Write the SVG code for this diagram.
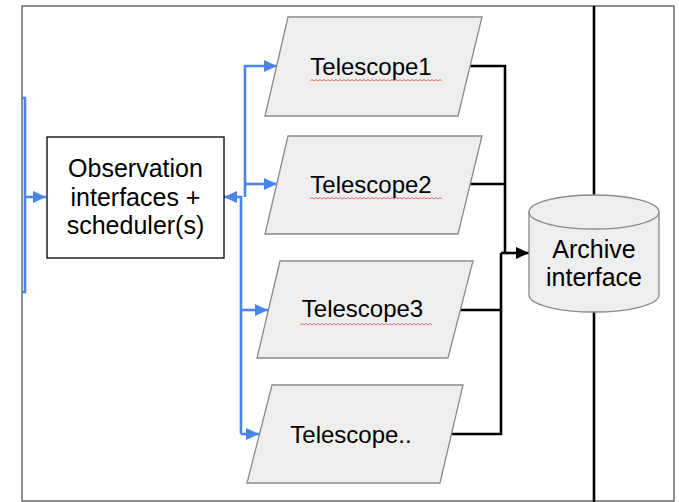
<svg xmlns="http://www.w3.org/2000/svg" width="679" height="502" viewBox="0 0 679 502">
  <defs>
    <marker id="arrBlue" markerUnits="userSpaceOnUse" markerWidth="14" markerHeight="12" refX="13" refY="6" orient="auto">
      <path d="M0,0 L13,6 L0,12 z" fill="#4a86e8"/>
    </marker>
    <marker id="arrBlack" markerUnits="userSpaceOnUse" markerWidth="14" markerHeight="12" refX="13" refY="6" orient="auto">
      <path d="M0,0 L13,6 L0,12 z" fill="#000"/>
    </marker>
  </defs>
  <style>
    .txt { font-family: "Liberation Sans", Arial, sans-serif; font-size: 24px; fill: #000; text-anchor: middle; }
    .big { font-size: 25px; }
    .tele { fill: #eeeeee; stroke: #8a8a8a; stroke-width: 1.3; }
    .blue { fill: none; stroke: #4a86e8; stroke-width: 2.6; }
    .blk { fill: none; stroke: #000; stroke-width: 2.6; }
    .spell { fill: none; stroke: #e06060; stroke-width: 0.9; }
  </style>
  <rect x="0" y="0" width="679" height="502" fill="#fff"/>
  <rect id="frame" x="22" y="6" width="652" height="495" fill="#fff" stroke="#6a6a6a" stroke-width="1.5"/>

  <g id="connectors">
    <path class="blue" d="M22,98 H25 V292 H22"/>
    <path class="blue" d="M25,197 H46" marker-end="url(#arrBlue)"/>
    <path class="blue" d="M245,197 V66 H277" marker-end="url(#arrBlue)"/>
    <path class="blue" d="M245,184 H277" marker-end="url(#arrBlue)"/>
    <path class="blue" d="M241,434 V197 H224" marker-end="url(#arrBlue)"/>
    <path class="blue" d="M241,310 H268" marker-end="url(#arrBlue)"/>
    <path class="blue" d="M241,434 H259" marker-end="url(#arrBlue)"/>
    <path class="blk" d="M469,66 H505 V253"/>
    <path class="blk" d="M469,184 H505"/>
    <path class="blk" d="M460,310 H501 V253"/>
    <path class="blk" d="M451,434 H501 V310"/>
    <path class="blk" d="M501,253 H529" marker-end="url(#arrBlack)"/>
    <path class="blk" d="M594,6 V195"/>
    <path class="blk" d="M594,312 V502"/>
  </g>

  <g id="scheduler">
    <rect x="47" y="137" width="177" height="121" fill="#fff" stroke="#000" stroke-width="1.3"/>
    <text class="txt big" x="135.5" y="177">Observation</text>
    <text class="txt big" x="135.5" y="206">interfaces +</text>
    <text class="txt big" x="135.5" y="234">scheduler(s)</text>
  </g>

  <g id="telescope1">
    <polygon class="tele" points="288,17 482,17 458,116 265,116"/>
    <text class="txt" x="371" y="75">Telescope1</text>
    <path class="spell" d="M310,81 l2,-1.5 l2,1.5 l2,-1.5 l2,1.5 l2,-1.5 l2,1.5 l2,-1.5 l2,1.5 l2,-1.5 l2,1.5 l2,-1.5 l2,1.5 l2,-1.5 l2,1.5 l2,-1.5 l2,1.5 l2,-1.5 l2,1.5 l2,-1.5 l2,1.5 l2,-1.5 l2,1.5 l2,-1.5 l2,1.5 l2,-1.5 l2,1.5 l2,-1.5 l2,1.5 l2,-1.5 l2,1.5 l2,-1.5 l2,1.5 l2,-1.5 l2,1.5 l2,-1.5 l2,1.5 l2,-1.5 l2,1.5 l2,-1.5 l2,1.5 l2,-1.5 l2,1.5 l2,-1.5 l2,1.5 l2,-1.5 l2,1.5 l2,-1.5 l2,1.5 l2,-1.5 l2,1.5 l2,-1.5 l2,1.5 l2,-1.5 l2,1.5 l2,-1.5 l2,1.5 l2,-1.5 l2,1.5 l2,-1.5 l2,1.5 l2,-1.5 l2,1.5 l2,-1.5 l2,1.5 l2,-1.5 l2,1.5"/>
  </g>

  <g id="telescope2">
    <polygon class="tele" points="288,136 482,136 458,234 265,234"/>
    <text class="txt" x="371" y="193">Telescope2</text>
    <path class="spell" d="M310,199 l2,-1.5 l2,1.5 l2,-1.5 l2,1.5 l2,-1.5 l2,1.5 l2,-1.5 l2,1.5 l2,-1.5 l2,1.5 l2,-1.5 l2,1.5 l2,-1.5 l2,1.5 l2,-1.5 l2,1.5 l2,-1.5 l2,1.5 l2,-1.5 l2,1.5 l2,-1.5 l2,1.5 l2,-1.5 l2,1.5 l2,-1.5 l2,1.5 l2,-1.5 l2,1.5 l2,-1.5 l2,1.5 l2,-1.5 l2,1.5 l2,-1.5 l2,1.5 l2,-1.5 l2,1.5 l2,-1.5 l2,1.5 l2,-1.5 l2,1.5 l2,-1.5 l2,1.5 l2,-1.5 l2,1.5 l2,-1.5 l2,1.5 l2,-1.5 l2,1.5 l2,-1.5 l2,1.5 l2,-1.5 l2,1.5 l2,-1.5 l2,1.5 l2,-1.5 l2,1.5 l2,-1.5 l2,1.5 l2,-1.5 l2,1.5 l2,-1.5 l2,1.5 l2,-1.5 l2,1.5 l2,-1.5 l2,1.5"/>
  </g>

  <g id="telescope3">
    <polygon class="tele" points="280,261 473,261 448,358 257,358"/>
    <text class="txt" x="362.5" y="317">Telescope3</text>
    <path class="spell" d="M300,325 l2,-1.5 l2,1.5 l2,-1.5 l2,1.5 l2,-1.5 l2,1.5 l2,-1.5 l2,1.5 l2,-1.5 l2,1.5 l2,-1.5 l2,1.5 l2,-1.5 l2,1.5 l2,-1.5 l2,1.5 l2,-1.5 l2,1.5 l2,-1.5 l2,1.5 l2,-1.5 l2,1.5 l2,-1.5 l2,1.5 l2,-1.5 l2,1.5 l2,-1.5 l2,1.5 l2,-1.5 l2,1.5 l2,-1.5 l2,1.5 l2,-1.5 l2,1.5 l2,-1.5 l2,1.5 l2,-1.5 l2,1.5 l2,-1.5 l2,1.5 l2,-1.5 l2,1.5 l2,-1.5 l2,1.5 l2,-1.5 l2,1.5 l2,-1.5 l2,1.5 l2,-1.5 l2,1.5 l2,-1.5 l2,1.5 l2,-1.5 l2,1.5 l2,-1.5 l2,1.5 l2,-1.5 l2,1.5 l2,-1.5 l2,1.5 l2,-1.5 l2,1.5 l2,-1.5 l2,1.5 l2,-1.5 l2,1.5"/>
  </g>

  <g id="telescope4">
    <polygon class="tele" points="272,385 463,385 440,483 247,483"/>
    <text class="txt" x="351" y="443">Telescope..</text>
  </g>

  <g id="archive">
    <path d="M529,212 V295 A65,17 0 0 0 659,295 V212" fill="#eeeeee" stroke="#8a8a8a" stroke-width="1.3"/>
    <ellipse cx="594" cy="212" rx="65" ry="17" fill="#eeeeee" stroke="#8a8a8a" stroke-width="1.3"/>
    <text class="txt big" x="594" y="258">Archive</text>
    <text class="txt big" x="594" y="286">interface</text>
  </g>
</svg>
